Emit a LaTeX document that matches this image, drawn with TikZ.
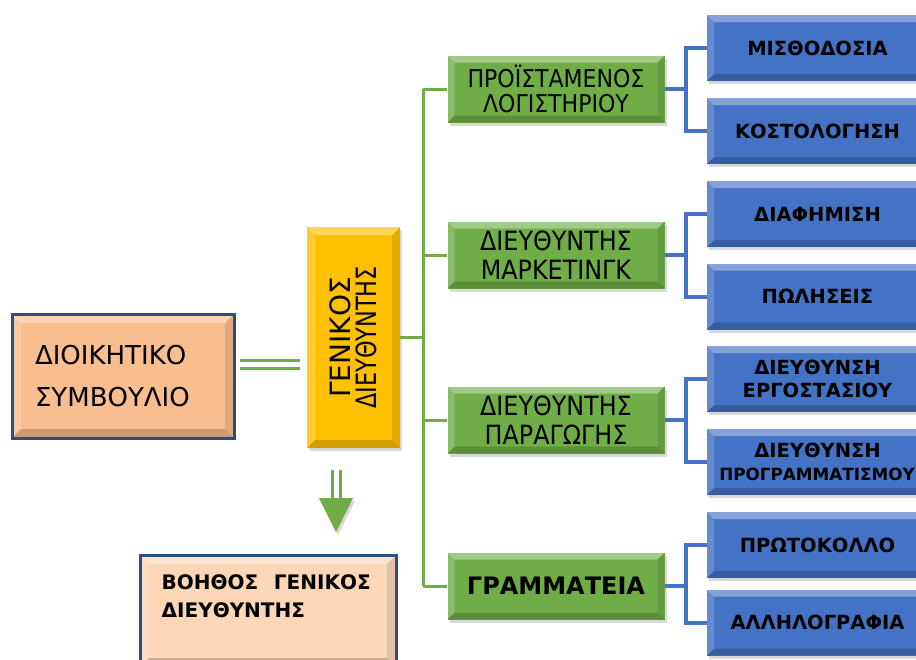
\documentclass[tikz,border=0pt]{standalone}
\usepackage{fontspec}
\setmainfont{DejaVu Sans}
\newfontfamily\cond{DejaVu Sans Condensed}
\usetikzlibrary{calc,shadows}
\definecolor{peach}{RGB}{249,190,143}
\definecolor{peachlt}{RGB}{251,214,183}
\definecolor{navy}{RGB}{47,77,128}
\definecolor{ylw}{RGB}{255,192,0}
\definecolor{grn}{RGB}{112,173,71}
\definecolor{blu}{RGB}{68,114,196}
\def\pb{path picture bounding box}
\tikzset{
  bevel/.style={path picture={
    \fill[white,opacity=.35] (\pb.north west) -- (\pb.north east) -- ([shift={(-#1,-#1)}]\pb.north east) -- ([shift={(#1,-#1)}]\pb.north west) -- cycle;
    \fill[white,opacity=.18] (\pb.north west) -- (\pb.south west) -- ([shift={(#1,#1)}]\pb.south west) -- ([shift={(#1,-#1)}]\pb.north west) -- cycle;
    \fill[black,opacity=.10] (\pb.north east) -- (\pb.south east) -- ([shift={(-#1,#1)}]\pb.south east) -- ([shift={(-#1,-#1)}]\pb.north east) -- cycle;
    \fill[black,opacity=.18] (\pb.south west) -- (\pb.south east) -- ([shift={(-#1,#1)}]\pb.south east) -- ([shift={(#1,#1)}]\pb.south west) -- cycle;
  }},
  shade box/.style={drop shadow={shadow xshift=2pt,shadow yshift=-3pt,opacity=.3}},
  peachbox/.style={fill=peach,draw=navy,line width=3pt,minimum width=222pt,minimum height=124pt,inner sep=0pt,bevel=9pt},
  ylwbox/.style={fill=ylw,minimum width=93pt,minimum height=221pt,inner sep=0pt,bevel=8pt,shade box},
  grnbox/.style={fill=grn,minimum width=217pt,minimum height=67pt,inner sep=0pt,align=center,bevel=7pt,shade box,
    font=\cond\fontsize{26.5}{29}\selectfont},
  blubox/.style={fill=blu,minimum width=221pt,minimum height=66pt,inner sep=0pt,align=center,bevel=7pt,shade box,
    font=\bfseries\fontsize{19.5}{23}\selectfont},
  gline/.style={draw=grn,line width=3pt},
  bline/.style={draw=blu,line width=4pt},
  dbl/.style={draw=grn,line width=3pt,double=white,double distance=5pt}
}
\begin{document}
\begin{tikzpicture}[x=1pt,y=-1pt]
\useasboundingbox (0,0) rectangle (916,659);
\node[peachbox,text width=176pt,align=left,font=\fontsize{26}{42}\selectfont] (board) at (123,376) {ΔΙΟΙΚΗΤΙΚΟ\\ΣΥΜΒΟΥΛΙΟ};
\node[ylwbox] (gm) at (353.5,337.5) {};
\node[rotate=90,align=center,inner sep=0pt] (gmtxt) at (gm.center)
  {\fontsize{28}{31}\selectfont ΓΕΝΙΚΟΣ\\[4pt]\fontsize{28}{31}\selectfont\scalebox{0.8}[1]{ΔΙΕΥΘΥΝΤΗΣ}};
\node[peachbox,fill=peachlt,minimum width=256pt,minimum height=112pt] (asst) at (268,611) {};
\node[anchor=north west,text width=209pt,inner sep=0pt,font=\bfseries\fontsize{20}{28}\selectfont] (assttxt)
  at ($(asst.north west)+(23pt,-21pt)$) {\noindent ΒΟΗΘΟΣ\hfill ΓΕΝΙΚΟΣ\\ΔΙΕΥΘΥΝΤΗΣ};

\node[grnbox,font=\cond\fontsize{24.5}{25}\selectfont] (g1) at (556,89) {ΠΡΟΪΣΤΑΜΕΝΟΣ\\ΛΟΓΙΣΤΗΡΙΟΥ};
\node[grnbox] (g2) at (556,255) {ΔΙΕΥΘΥΝΤΗΣ\\ΜΑΡΚΕΤΙΝΓΚ};
\node[grnbox] (g3) at (556,420) {ΔΙΕΥΘΥΝΤΗΣ\\ΠΑΡΑΓΩΓΗΣ};
\node[grnbox,font=\bfseries\fontsize{24}{29}\selectfont] (g4) at (556,586) {ΓΡΑΜΜΑΤΕΙΑ};

\node[blubox] (b1) at (817.5,48) {ΜΙΣΘΟΔΟΣΙΑ};
\node[blubox] (b2) at (817.5,131) {ΚΟΣΤΟΛΟΓΗΣΗ};
\node[blubox] (b3) at (817.5,214) {ΔΙΑΦΗΜΙΣΗ};
\node[blubox] (b4) at (817.5,296.5) {ΠΩΛΗΣΕΙΣ};
\node[blubox] (b5) at (817.5,379) {ΔΙΕΥΘΥΝΣΗ\\ΕΡΓΟΣΤΑΣΙΟΥ};
\node[blubox] (b6) at (817.5,462) {ΔΙΕΥΘΥΝΣΗ\\{\fontsize{16.8}{23}\selectfont\hspace*{-1pt}ΠΡΟΓΡΑΜΜΑΤΙΣΜΟΥ}};
\node[blubox] (b7) at (817.5,545) {ΠΡΩΤΟΚΟΛΛΟ};
\node[blubox] (b8) at (817.5,622.5) {ΑΛΛΗΛΟΓΡΑΦΙΑ};

\draw[dbl] ($(board.east)+(4pt,12pt)$) -- ($(gm.west |- board.east)+(-7pt,12pt)$);
\draw[gline] (gm.east) -- ++(23,0) coordinate (gj);
\draw[gline] (gj |- g1.west) -- (gj |- g4.west);
\foreach \g in {g1,g2,g3,g4}
  \draw[gline] (gj |- \g.west) -- (\g.west);
\foreach \g/\u/\l in {g1/b1/b2,g2/b3/b4,g3/b5/b6,g4/b7/b8}{
  \draw[bline] (\g.east) -- ++(21,0) coordinate (j\g);
  \draw[bline] (\u.west) -| (j\g) |- (\l.west);
}
\coordinate (ar) at ($(gm.south)+(-17.5pt,-22pt)$);
\draw[dbl] (ar) -- ++(0,30);
\fill[grn,shade box] ($(ar)+(-17pt,-28pt)$) -- ($(ar)+(17pt,-28pt)$) -- ($(ar)+(0,-62pt)$) -- cycle;
\end{tikzpicture}
\end{document}
